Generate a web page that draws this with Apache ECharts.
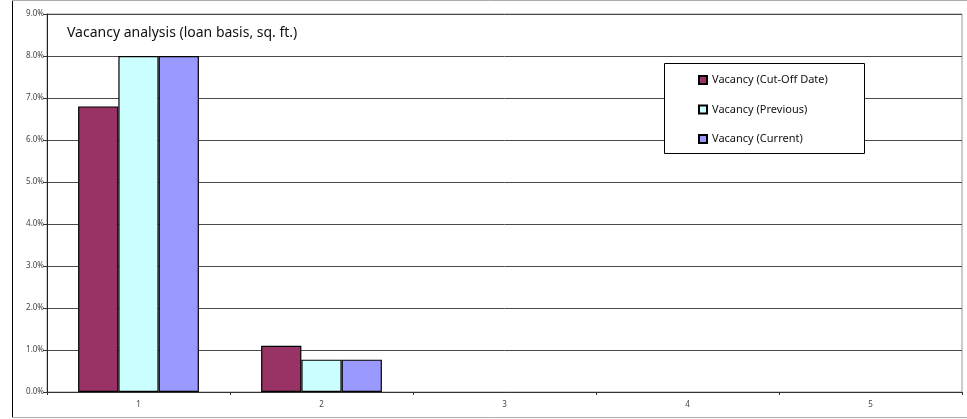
<!DOCTYPE html>
<html>
<head>
<meta charset="utf-8">
<script src="https://cdn.jsdelivr.net/npm/echarts@6/dist/echarts.min.js"></script>
<style>
  html, body { margin: 0; padding: 0; background: #fff; }
  #chart { width: 967px; height: 419px; }
</style>
</head>
<body>
<div id="chart"></div>
<script>
// Vacancy figures per property, in percent of loan-basis square footage
const categories = ['1', '2', '3', '4', '5'];
const seriesNames = ['Vacancy (Cut-Off Date)', 'Vacancy (Previous)', 'Vacancy (Current)'];
const cutOffVacancy = [6.8, 1.1, null, null, null];
const previousVacancy = [8.0, 0.77, null, null, null];
const currentVacancy = [8.0, 0.77, null, null, null];
const yTicks = { min: 0, max: 9, interval: 1 };

const colors = ['#993366', '#CCFFFF', '#9999FF'];
const values = [cutOffVacancy, previousVacancy, currentVacancy];
const font = '"Noto Sans", "DejaVu Sans", sans-serif';

const chart = echarts.init(document.getElementById('chart'), null, { renderer: 'canvas' });

chart.setOption({
  animation: false,
  backgroundColor: '#fff',
  title: {
    text: 'Vacancy analysis (loan basis, sq. ft.)',
    left: 62,
    top: 21,
    textStyle: { fontFamily: font, fontSize: 14, fontWeight: 'normal', color: '#111' }
  },
  grid: {
    left: 47, top: 14, right: 5, bottom: 27,
    show: true,
    borderColor: '#999',
    borderWidth: 1
  },
  legend: {
    orient: 'vertical',
    left: 664,
    top: 63,
    z: 8,
    padding: [10, 20, 7, 34],
    itemWidth: 8,
    itemHeight: 8,
    itemGap: 15.5,
    icon: 'rect',
    textStyle: { fontFamily: font, fontSize: 11, color: '#111', lineHeight: 14 },
    data: seriesNames
  },
  xAxis: {
    type: 'category',
    data: categories,
    boundaryGap: true,
    axisLine: { lineStyle: { color: '#333', width: 1 } },
    axisTick: { show: true, length: 3, lineStyle: { color: '#333' } },
    axisLabel: { fontFamily: font, fontSize: 8, color: '#444', margin: 9 },
    splitLine: { show: false }
  },
  yAxis: {
    type: 'value',
    min: yTicks.min,
    max: yTicks.max,
    interval: yTicks.interval,
    axisLine: { show: true, lineStyle: { color: '#222', width: 1 } },
    axisTick: { show: true, length: 4, lineStyle: { color: '#333' } },
    axisLabel: {
      fontFamily: font, fontSize: 8, color: '#444', margin: 3,
      formatter: v => v.toFixed(1) + '%'
    },
    splitLine: { show: true, lineStyle: { color: '#4a4a4a', width: 1 } }
  },
  series: seriesNames.map((name, i) => ({
    name,
    type: 'bar',
    data: values[i],
    barGap: '0%',
    barCategoryGap: '34%',
    itemStyle: { color: colors[i], borderColor: '#000', borderWidth: 1.2 }
  })),
  graphic: [
    // legend frame, drawn beneath the legend entries
    { type: 'rect', left: 664, top: 63, z: 3,
      shape: { width: 200, height: 90 },
      style: { fill: '#fff', stroke: '#000', lineWidth: 1 } },
    // outer chart frame
    { type: 'line', z: 10, shape: { x1: 12.5, y1: 0, x2: 12.5, y2: 418 }, style: { stroke: '#000', lineWidth: 1 } },
    { type: 'line', z: 10, shape: { x1: 12, y1: 417.5, x2: 967, y2: 417.5 }, style: { stroke: '#aaa', lineWidth: 1 } },
    { type: 'line', z: 10, shape: { x1: 12, y1: 0.5, x2: 967, y2: 0.5 }, style: { stroke: '#aaa', lineWidth: 1 } }
  ]
});
</script>
</body>
</html>
